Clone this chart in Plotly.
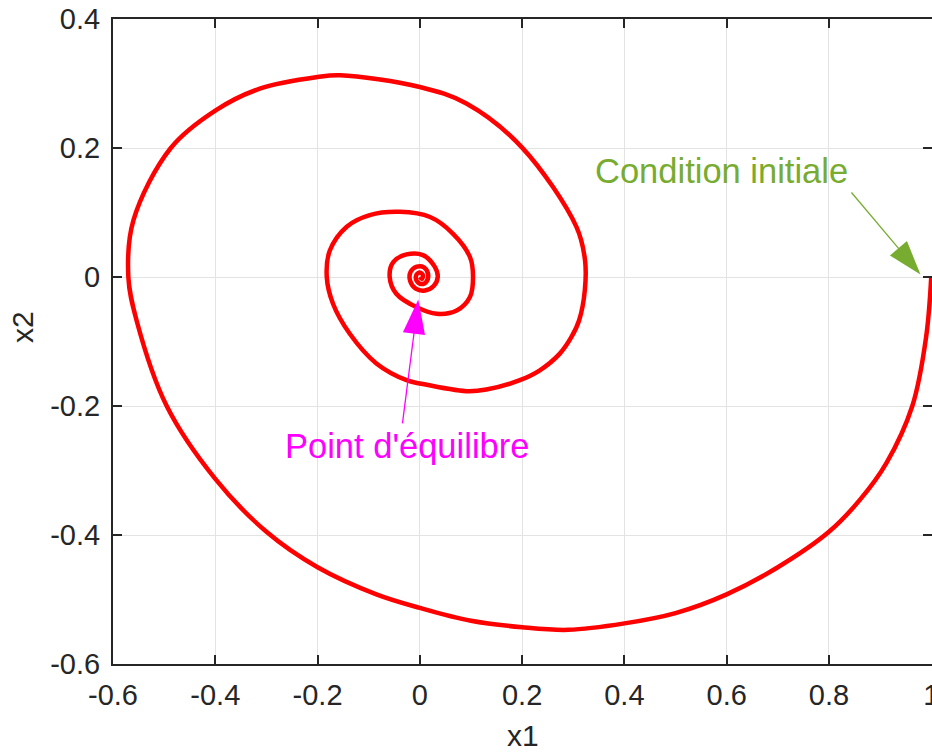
import plotly.graph_objects as go

# Trajectory (x1, x2)
x1 = [1.0, 0.99, 0.963, 0.912, 0.86, 0.8, 0.7, 0.6, 0.5, 0.4, 0.29, 0.2, 0.1, 0.0,
      -0.085, -0.2, -0.3, -0.4, -0.495, -0.554, -0.57,
      -0.56, -0.487, -0.4, -0.313, -0.2, -0.156, 0.0, 0.091,
      0.2, 0.306, 0.323, 0.3226, 0.3115, 0.2965, 0.2737, 0.2346, 0.1955, 0.13, 0.091, 0.0,
      -0.026, -0.085, -0.137, -0.17, -0.182, -0.176, -0.143, -0.098, -0.039,
      0.02, 0.065, 0.098, 0.104, 0.098, 0.072, 0.033, -0.006, -0.046, -0.059,
      -0.052, -0.026, 0.006, 0.029, 0.035, 0.027, 0.01, -0.008, -0.019, -0.018,
      -0.006, 0.008, 0.016, 0.013, 0.003, -0.006, -0.007, 0.0, 0.006, 0.004, 0.0]
x2 = [0.0, -0.093, -0.2, -0.289, -0.346, -0.395, -0.45, -0.492, -0.521, -0.537, -0.547, -0.543, -0.533, -0.513,
      -0.492, -0.45, -0.395, -0.313, -0.2, -0.067, 0.0,
      0.088, 0.2, 0.258, 0.292, 0.31, 0.3127, 0.2946, 0.269,
      0.2006, 0.078, 0.026, -0.0207, -0.0671, -0.093, -0.1188, -0.1447, -0.16, -0.1745, -0.177, -0.165,
      -0.16, -0.134, -0.088, -0.041, 0.0, 0.041, 0.078, 0.096, 0.101,
      0.093, 0.067, 0.031, 0.0, -0.031, -0.052, -0.057, -0.047, -0.026, 0.0,
      0.023, 0.035, 0.034, 0.016, 0.0, -0.014, -0.021, -0.018, -0.006, 0.008,
      0.016, 0.015, 0.005, -0.007, -0.011, -0.006, 0.003, 0.007, 0.003, -0.003, 0.0]

# Annotation arrows (tail -> head) and labels
ci_arrow_x = [0.844, 0.979]
ci_arrow_y = [0.131, 0.004]
pe_arrow_x = [-0.034, -0.003]
pe_arrow_y = [-0.227, -0.035]
ci_label = "Condition initiale"
pe_label = "Point d'équilibre"
ci_pos = (0.590, 0.164)
pe_pos = (-0.026, -0.2625)

x_ticks = [-0.6, -0.4, -0.2, 0, 0.2, 0.4, 0.6, 0.8, 1]
x_ticktext = ["-0.6", "-0.4", "-0.2", "0", "0.2", "0.4", "0.6", "0.8", "1"]
y_ticks = [-0.6, -0.4, -0.2, 0, 0.2, 0.4]
y_ticktext = ["-0.6", "-0.4", "-0.2", "0", "0.2", "0.4"]
x_title = "x1"
y_title = "x2"

FONT = "Liberation Sans, Arial, Helvetica, sans-serif"
GREEN = "#77AC30"
MAGENTA = "#FF00FF"
AX = "#262626"

fig = go.Figure()
fig.add_trace(go.Scatter(x=x1, y=x2, mode="lines",
                         line=dict(color="#FF0000", width=4.5, shape="spline", smoothing=1.0),
                         hoverinfo="skip", showlegend=False))

for ax_, ay_, col in [(ci_arrow_x, ci_arrow_y, GREEN), (pe_arrow_x, pe_arrow_y, MAGENTA)]:
    fig.add_trace(go.Scatter(x=ax_, y=ay_, mode="lines+markers",
                             line=dict(color=col, width=1.3),
                             marker=dict(symbol="arrow", angleref="previous", size=[0, 36],
                                         color=col, opacity=1, line=dict(width=0)),
                             hoverinfo="skip", showlegend=False, cliponaxis=False))

fig.add_annotation(x=ci_pos[0], y=ci_pos[1], text=ci_label, showarrow=False,
                   font=dict(family=FONT, size=34.5, color=GREEN), xanchor="center", yanchor="middle")
fig.add_annotation(x=pe_pos[0], y=pe_pos[1], text=pe_label, showarrow=False,
                   font=dict(family=FONT, size=34.5, color=MAGENTA), xanchor="center", yanchor="middle")

# Axis titles
fig.add_annotation(x=0.5, y=-0.111, xref="paper", yref="paper", text=x_title, showarrow=False,
                   font=dict(family=FONT, size=30, color=AX), xanchor="center", yanchor="middle")
fig.add_annotation(x=-0.1099, y=0.5225, xref="paper", yref="paper", text=y_title, showarrow=False,
                   textangle=-90, font=dict(family=FONT, size=30, color=AX),
                   xanchor="center", yanchor="middle")

axis_common = dict(showgrid=True, gridcolor="#e3e3e3", gridwidth=1.3, zeroline=False,
                   showline=True, linecolor=AX, linewidth=2, mirror="ticks",
                   ticks="inside", ticklen=9, tickwidth=2, tickcolor=AX,
                   ticklabeloverflow="allow",
                   tickfont=dict(family=FONT, size=29, color=AX))

fig.update_layout(
    width=932, height=753,
    margin=dict(l=113, r=0, t=19, b=89, autoexpand=False),
    paper_bgcolor="white", plot_bgcolor="white",
    font=dict(family=FONT, color=AX),
    xaxis=dict(range=[-0.6, 1.0015], tickvals=x_ticks, ticktext=x_ticktext,
               ticklabelstandoff=4, automargin=False, **axis_common),
    yaxis=dict(range=[-0.6, 0.4], tickvals=y_ticks, ticktext=y_ticktext,
               ticklabelstandoff=5, automargin=False, **axis_common),
)

fig.write_html("out.html")
